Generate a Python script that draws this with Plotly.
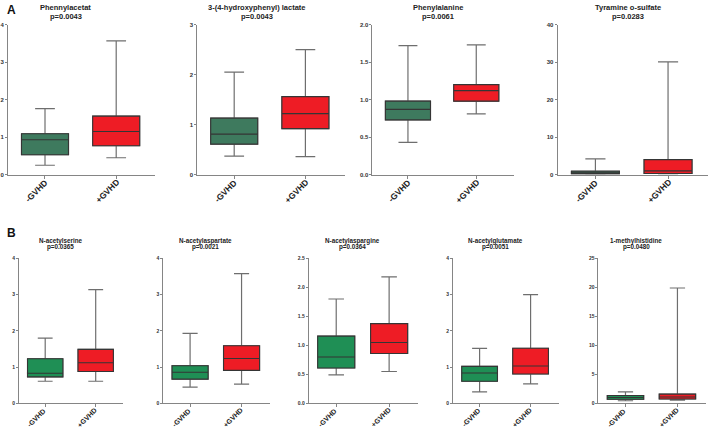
import plotly.graph_objects as go

W, H = 708, 433

# ---------------- data ----------------
groups = ["-GVHD", "+GVHD"]
metabolites = ["Phennylacetat", "3-(4-hydroxyphenyl) lactate", "Phenylalanine",
               "Tyramine o-sulfate", "N-acetylserine", "N-acetylaspartate",
               "N-acetylaspargine", "N-acetylglutamate", "1-methylhistidine"]
p_values = ["p=0.0043", "p=0.0043", "p=0.0061", "p=0.0283", "p=0.0365",
            "p=0.0021", "p=0.0364", "p=0.0051", "p=0.0480"]

neg_min = [0.25, 0.37, 0.43, 0.10, 0.61, 0.45, 0.49, 0.32, 0.45]
neg_q1 = [0.53, 0.61, 0.73, 0.20, 0.73, 0.67, 0.61, 0.61, 0.70]
neg_med = [0.93, 0.81, 0.87, 0.40, 0.83, 0.86, 0.80, 0.84, 1.00]
neg_q3 = [1.09, 1.13, 0.98, 0.90, 1.23, 1.04, 1.16, 1.02, 1.36]
neg_max = [1.76, 2.05, 1.72, 4.20, 1.80, 1.93, 1.80, 1.52, 2.00]

pos_min = [0.45, 0.36, 0.81, 0.20, 0.61, 0.53, 0.55, 0.54, 0.55]
pos_q1 = [0.77, 0.92, 0.98, 0.30, 0.88, 0.91, 0.86, 0.81, 0.75]
pos_med = [1.15, 1.22, 1.12, 1.00, 1.12, 1.24, 1.05, 1.03, 1.10]
pos_q3 = [1.56, 1.56, 1.20, 4.00, 1.49, 1.59, 1.375, 1.52, 1.60]
pos_max = [3.57, 2.50, 1.73, 30.1, 3.14, 3.58, 2.18, 3.00, 19.9]

y_max = [4, 3, 2, 40, 4, 4, 2.5, 4, 25]
y_dtick = [1, 1, 0.5, 10, 1, 1, 0.5, 1, 5]
y_format = ["d", "d", ".1f", "d", "d", "d", ".1f", "d", "d"]

# ---------------- layout (pixel geometry) ----------------
# (x0, x1, y_top, y_bottom) of each plotting area
areas = [(5, 153, 22, 174), (195, 343, 22, 174), (371, 513, 22, 174), (557, 708, 22, 174),
         (16, 121, 259, 406), (161, 268, 259, 406), (307, 417, 259, 406),
         (452, 558, 259, 406), (598, 706, 259, 406)]
title_x = [63, 255, 437, 628, 58, 203, 351, 495, 636]

GREEN_A = "#3e7a5e"
GREEN_B = "#1f8f55"
RED = "#ee1c25"
WHISK = "#6e6e6e"
EDGE = "#353535"
AXC = "#858585"
FONT = "Liberation Sans, Arial, sans-serif"


def px_x(v):
    return v / W


def px_y(v):
    return 1 - v / H


fig = go.Figure()
layout = {}
annotations = []

for i in range(9):
    rowA = i < 4
    ax = "" if i == 0 else str(i + 1)
    xa, ya = "x" + ax, "y" + ax
    x0, x1, yt, yb = areas[i]
    bw = 0.66 if rowA else 0.70
    green = GREEN_A if rowA else GREEN_B
    stats = [
        (groups[0], neg_min[i], neg_q1[i], neg_med[i], neg_q3[i], neg_max[i], green),
        (groups[1], pos_min[i], pos_q1[i], pos_med[i], pos_q3[i], pos_max[i], RED),
    ]
    for g, mn, q1, md, q3, mx, col in stats:
        # whiskers (grey)
        fig.add_trace(go.Box(
            x=[g], q1=[q1], median=[md], q3=[q3], lowerfence=[mn], upperfence=[mx],
            xaxis=xa, yaxis=ya, width=bw, whiskerwidth=0.42, boxpoints=False,
            fillcolor=col, line=dict(color=WHISK, width=1.2), showlegend=False,
            hoverinfo="skip"))
        # box body (dark outline)
        fig.add_trace(go.Box(
            x=[g], q1=[q1], median=[md], q3=[q3], lowerfence=[q1], upperfence=[q3],
            xaxis=xa, yaxis=ya, width=bw, whiskerwidth=1.0, boxpoints=False,
            fillcolor=col, line=dict(color=EDGE, width=1.1), showlegend=False))

    tick_fs = 6 if rowA else 5
    xlab_fs = 8.5 if rowA else 7
    layout["xaxis" + ax] = dict(
        domain=[px_x(x0), px_x(x1)], anchor=ya, range=[-0.52, 1.55],
        categoryorder="array", categoryarray=groups, showticklabels=False,
        showline=True, linecolor=AXC, linewidth=1, ticks="outside", ticklen=3,
        tickcolor=AXC, showgrid=False, zeroline=False)
    layout["yaxis" + ax] = dict(
        domain=[px_y(yb), px_y(yt)], anchor=xa, range=[0, y_max[i]],
        dtick=y_dtick[i], tick0=0, tickformat=y_format[i],
        showline=True, linecolor=AXC, linewidth=1, ticks="outside", ticklen=2,
        tickcolor=AXC, showgrid=False, zeroline=False,
        tickfont=dict(family=FONT, size=tick_fs, color="#333", weight="bold"))

    # rotated group labels under each category tick
    for g in groups:
        annotations.append(dict(
            text="<b>" + g + "</b>", x=g, xref=xa, y=px_y(yb + (17 if rowA else 14.5)),
            yref="paper", xshift=-8.5 if rowA else -8.5, textangle=-45,
            xanchor="center", yanchor="middle", showarrow=False,
            font=dict(family=FONT, size=xlab_fs, color="#222")))

    if rowA:
        l1, l2, fs = 5, 14, 7.5
    else:
        l1, l2, fs = 241.5, 247.5, 6.3
    for txt, yy in ((metabolites[i], l1), (p_values[i], l2)):
        annotations.append(dict(
            text="<b>" + txt + "</b>", x=px_x(title_x[i]), y=px_y(yy),
            xref="paper", yref="paper", xanchor="center", yanchor="middle",
            showarrow=False, font=dict(family=FONT, size=fs, color="#222")))

annotations.append(dict(text="<b>A</b>", x=px_x(2), y=px_y(7.5), xref="paper", yref="paper",
                        xanchor="left", yanchor="middle", showarrow=False,
                        font=dict(family=FONT, size=12, color="#111")))
annotations.append(dict(text="<b>B</b>", x=px_x(2), y=px_y(233), xref="paper", yref="paper",
                        xanchor="left", yanchor="middle", showarrow=False,
                        font=dict(family=FONT, size=12, color="#111")))

fig.update_layout(
    width=W, height=H, autosize=False,
    margin=dict(l=0, r=0, t=0, b=0),
    paper_bgcolor="white", plot_bgcolor="white",
    boxmode="overlay", annotations=annotations, **layout)

fig.write_html("out.html", config={"displayModeBar": False})

# remove the browser's default page margin so the figure fills the window exactly
with open("out.html", encoding="utf-8") as f:
    html = f.read()
html = html.replace("<head>", "<head><style>html,body{margin:0;padding:0;overflow:hidden;}</style>", 1)
with open("out.html", "w", encoding="utf-8") as f:
    f.write(html)
